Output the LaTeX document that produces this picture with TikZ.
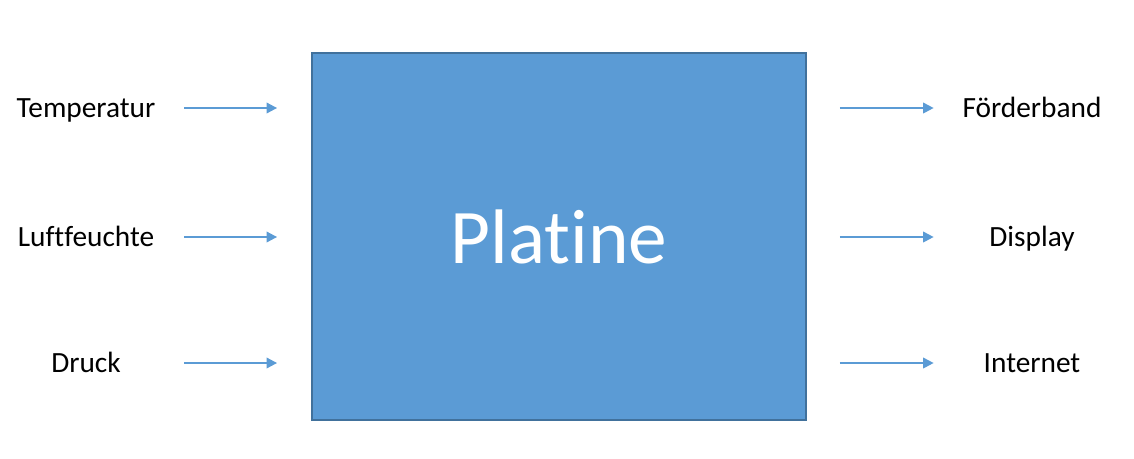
\documentclass[tikz,border=0pt]{standalone}
\usepackage{fontspec}
\setmainfont{Carlito}[Ligatures=NoCommon]
\usetikzlibrary{arrows.meta,positioning}
\definecolor{boxblue}{HTML}{5B9BD5}
\definecolor{boxline}{HTML}{41719C}

\begin{document}
\begin{tikzpicture}[x=0.02cm, y=-0.02cm,
        label/.style={font=\fontsize{16.7}{20}\selectfont, minimum width=2.8cm, inner sep=0pt, text height=10.7pt, text depth=0pt},
        flow/.style={draw=boxblue, line width=1.1pt, -{Triangle[length=6pt, width=6pt]}}]
            \useasboundingbox (0,0) rectangle (1134,458);
            \node (platine) [draw=boxline, line width=1.1pt, fill=boxblue, minimum width=9.88cm, minimum height=7.34cm, inner sep=0pt, font=\fontsize{44}{50}\selectfont, text=white] at (559,236.5) {Platine};

            \node (temp) [label] at (86,108) {Temperatur};
            \node (feuchte) [label] at (86,237) {Luftfeuchte};
            \node (druck) [label] at (86,363) {Druck};
            \node (band) [label] at (1032,108) {Förderband};
            \node (display) [label] at (1032,237) {Display};
            \node (internet) [label] at (1032,363) {Internet};

            \draw[flow] ([xshift=0.56cm]temp.east) -- ([xshift=-0.68cm]platine.west |- temp);
            \draw[flow] ([xshift=0.56cm]feuchte.east) -- ([xshift=-0.68cm]platine.west |- feuchte);
            \draw[flow] ([xshift=0.56cm]druck.east) -- ([xshift=-0.68cm]platine.west |- druck);
            \draw[flow] ([xshift=0.66cm]platine.east |- band) -- ([xshift=-0.56cm]band.west);
            \draw[flow] ([xshift=0.66cm]platine.east |- display) -- ([xshift=-0.56cm]display.west);
            \draw[flow] ([xshift=0.66cm]platine.east |- internet) -- ([xshift=-0.56cm]internet.west);
        \end{tikzpicture}
\end{document}
